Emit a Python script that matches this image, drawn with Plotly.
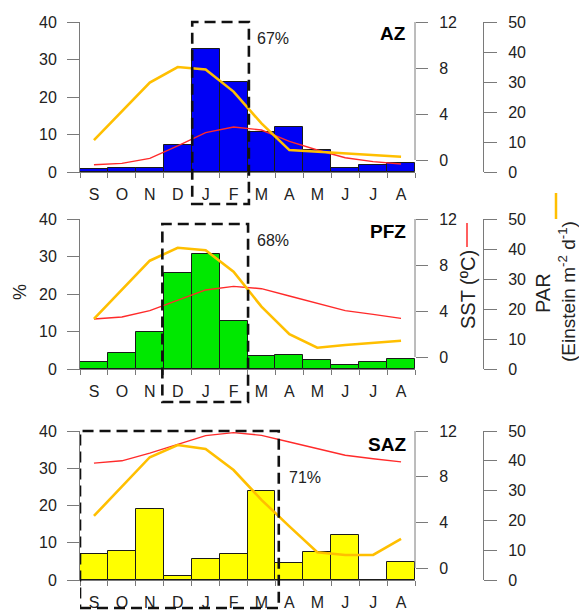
import plotly.graph_objects as go

W, H = 579, 611

months = ["S", "O", "N", "D", "J", "F", "M", "A", "M", "J", "J", "A"]
zones = ["AZ", "PFZ", "SAZ"]

# % of blooms per month
pct_AZ = [0.8, 1.0, 1.0, 7.3, 32.8, 24.1, 10.8, 12.0, 6.0, 1.2, 1.8, 2.5]
pct_PFZ = [2.0, 4.4, 10.0, 25.5, 30.7, 12.7, 3.6, 3.7, 2.4, 1.2, 2.0, 2.7]
pct_SAZ = [7.0, 7.8, 19.0, 1.0, 5.6, 7.0, 23.8, 4.6, 7.4, 12.0, 0.0, 4.9]

# SST (degC)
sst_AZ = [-0.41, -0.29, 0.14, 1.22, 2.38, 2.87, 2.61, 1.62, 0.87, 0.2, -0.14, -0.35]
sst_PFZ = [3.30, 3.48, 4.03, 4.9, 5.83, 6.14, 5.94, 5.3, 4.67, 4.03, 3.71, 3.36]
sst_SAZ = [9.19, 9.39, 10.06, 10.84, 11.6, 11.86, 11.62, 11.04, 10.43, 9.88, 9.57, 9.3]

# PAR (Einstein m-2 d-1)
par_AZ = [10.6, 20.1, 29.8, 35.0, 34.2, 26.8, 16.2, 7.3, 6.8, 6.2, 5.7, 5.1]
par_PFZ = [16.7, 26.3, 36.1, 40.4, 39.6, 32.4, 20.8, 11.6, 7.1, 8.0, 8.8, 9.4]
par_SAZ = [21.5, 31.4, 41.2, 45.3, 44.0, 36.9, 26.9, 18.0, 9.3, 8.4, 8.4, 13.8]

pct_ticks = [0, 10, 20, 30, 40]
sst_ticks = [0, 4, 8, 12]
par_ticks = [0, 10, 20, 30, 40, 50]

box_pct = ["67%", "68%", "71%"]
box_x = [(3.52, 5.55), (2.45, 5.52), (-0.5, 6.62)]  # month index range of dashed box

pcts = [pct_AZ, pct_PFZ, pct_SAZ]
ssts = [sst_AZ, sst_PFZ, sst_SAZ]
pars = [par_AZ, par_PFZ, par_SAZ]
bar_colors = ["#0000F5", "#00E800", "#FFFF00"]

# layout geometry (pixels)
X0, X1 = 80, 415
panels = [(22, 172), (219, 369), (431, 580)]
box_tb = [(22, 204), (224, 402), (431, 608)]
pct_label_pos = [(5.77, 35.5), (5.77, 34.2), (6.91, 27.4)]
zone_label_y = [37.0, 36.8, 36.5]

FONT = "Liberation Sans, Arial, sans-serif"
AX = "#7a7a7a"
TXT = "#222222"

def px(x):
    return x / W

def py(y):
    return 1 - y / H

fig = go.Figure()
layout = {}
shapes = []
annotations = []

x_idx = list(range(12))
for p in range(3):
    xa = 2 * p + 1
    xb = 2 * p + 2
    ya = 3 * p + 1
    ys = 3 * p + 2
    yp = 3 * p + 3
    top, bot = panels[p]
    dom_y = [py(bot), py(top)]
    dom_x = [px(X0), px(X1)]

    fig.add_trace(go.Bar(x=x_idx, y=pcts[p], width=1.0,
                         marker=dict(color=bar_colors[p], line=dict(color="#1a1a1a", width=1)),
                         xaxis=f"x{xa}", yaxis=f"y{ya}", showlegend=False))
    fig.add_trace(go.Scatter(x=x_idx, y=ssts[p], mode="lines",
                             line=dict(color="#FF2A2A", width=1.4),
                             xaxis=f"x{xa}", yaxis=f"y{ys}", showlegend=False))
    fig.add_trace(go.Scatter(x=x_idx, y=pars[p], mode="lines",
                             line=dict(color="#FFBF00", width=2.6),
                             xaxis=f"x{xa}", yaxis=f"y{yp}", showlegend=False))
    fig.add_trace(go.Scatter(x=[0], y=[0], mode="markers", marker=dict(opacity=0),
                             xaxis=f"x{xb}", yaxis=f"y{ya}", showlegend=False, hoverinfo="skip"))

    sfx = lambda n: "" if n == 1 else str(n)
    layout[f"xaxis{sfx(xa)}"] = dict(
        domain=dom_x, anchor=f"y{ya}", range=[-0.5, 11.5], automargin=False,
        tickmode="array", tickvals=x_idx, ticktext=months,
        ticks="outside", ticklen=8, tickcolor="rgba(0,0,0,0)",
        showline=False, showgrid=False, zeroline=False,
        tickfont=dict(family=FONT, size=16, color=TXT), fixedrange=True)
    layout[f"xaxis{xb}"] = dict(
        domain=dom_x, anchor=f"y{ya}", overlaying=f"x{sfx(xa)}", range=[-0.5, 11.5],
        automargin=False,
        tickmode="array", tickvals=[i - 0.5 for i in range(13)],
        ticks="outside", ticklen=5, tickcolor=AX, tickwidth=1,
        showticklabels=False, showline=True, linecolor=AX, linewidth=1,
        showgrid=False, zeroline=False)
    layout[f"yaxis{sfx(ya)}"] = dict(
        domain=dom_y, anchor=f"x{sfx(xa)}", range=[0, 40], automargin=False,
        tickmode="array", tickvals=pct_ticks,
        ticks="outside", ticklen=12, tickcolor=AX, tickwidth=1, ticklabelstandoff=7,
        showline=True, linecolor=AX, linewidth=1,
        showgrid=False, zeroline=False,
        tickfont=dict(family=FONT, size=16, color=TXT))
    layout[f"yaxis{ys}"] = dict(
        domain=dom_y, anchor=f"x{sfx(xa)}", overlaying=f"y{sfx(ya)}", side="right",
        range=[-12 / 138 * 12, 12], automargin=False,
        tickmode="array", tickvals=sst_ticks,
        ticks="outside", ticklen=12, tickcolor=AX, tickwidth=1, ticklabelstandoff=8,
        showline=False, showgrid=False, zeroline=False,
        tickfont=dict(family=FONT, size=16, color=TXT))
    layout[f"yaxis{yp}"] = dict(
        domain=dom_y, anchor="free", position=px(483), overlaying=f"y{sfx(ya)}", side="right",
        range=[0, 50], automargin=False,
        tickmode="array", tickvals=par_ticks,
        ticks="outside", ticklen=13, tickcolor=AX, tickwidth=1, ticklabelstandoff=8,
        showline=True, linecolor=AX, linewidth=1,
        showgrid=False, zeroline=False,
        tickfont=dict(family=FONT, size=16, color=TXT))

    shapes.append(dict(type="line", xref="paper", yref=f"y{ys}",
                       x0=px(X1), x1=px(X1), y0=0, y1=12,
                       line=dict(color=AX, width=1)))
    bt, bb = box_tb[p]
    shapes.append(dict(type="rect", xref=f"x{sfx(xa)}", yref="paper",
                       x0=box_x[p][0], x1=box_x[p][1], y0=py(bb), y1=py(bt),
                       line=dict(color="#111111", width=2.6, dash="11px,6px"),
                       fillcolor="rgba(0,0,0,0)", layer="above"))
    annotations.append(dict(xref=f"x{sfx(xa)}", yref=f"y{sfx(ya)}",
                            x=pct_label_pos[p][0], y=pct_label_pos[p][1],
                            text=box_pct[p], showarrow=False, xanchor="left", yanchor="middle",
                            font=dict(family=FONT, size=16, color=TXT)))
    annotations.append(dict(xref=f"x{sfx(xa)}", yref=f"y{sfx(ya)}",
                            x=11.25, y=zone_label_y[p],
                            text=f"<b>{zones[p]}</b>", showarrow=False, xanchor="right", yanchor="middle",
                            font=dict(family=FONT, size=19, color="#000000")))

annotations.append(dict(xref="paper", yref="paper", x=px(20), y=py(292), text="%",
                        textangle=-90, showarrow=False, xanchor="center", yanchor="middle",
                        font=dict(family=FONT, size=18, color=TXT)))
annotations.append(dict(xref="paper", yref="paper", x=px(468), y=py(290), text="SST (ºC)",
                        textangle=-90, showarrow=False, xanchor="center", yanchor="middle",
                        font=dict(family=FONT, size=20, color=TXT)))
annotations.append(dict(xref="paper", yref="paper", x=px(543), y=py(293), text="PAR",
                        textangle=-90, showarrow=False, xanchor="center", yanchor="middle",
                        font=dict(family=FONT, size=20, color=TXT)))
annotations.append(dict(xref="paper", yref="paper", x=px(567), y=py(292),
                        text="(Einstein m<sup>-2</sup> d<sup>-1</sup>)",
                        textangle=-90, showarrow=False, xanchor="center", yanchor="middle",
                        font=dict(family=FONT, size=19, color=TXT)))
shapes.append(dict(type="line", xref="paper", yref="paper", x0=px(467), x1=px(467),
                   y0=py(247), y1=py(223), line=dict(color="#FF2A2A", width=1.5)))
shapes.append(dict(type="line", xref="paper", yref="paper", x0=px(556), x1=px(556),
                   y0=py(219), y1=py(193), line=dict(color="#FFBF00", width=2.5)))

layout.update(dict(width=W, height=H, margin=dict(l=0, r=0, t=0, b=0, autoexpand=False),
                   paper_bgcolor="white", plot_bgcolor="rgba(0,0,0,0)",
                   shapes=shapes, annotations=annotations, bargap=0, showlegend=False))
fig.update_layout(**layout)
fig.write_html("out.html", config={"displayModeBar": False},
               post_script="document.body.style.margin='0';document.body.style.overflow='hidden';")
